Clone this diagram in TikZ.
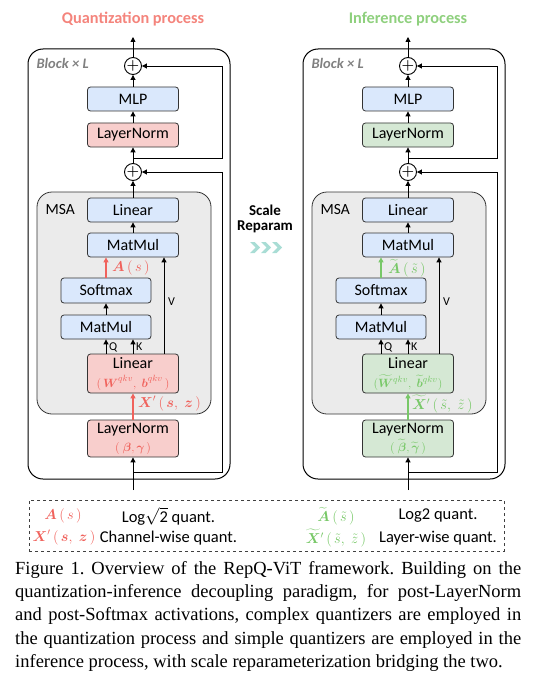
\documentclass[tikz,border=0pt]{standalone}
\usepackage{amsmath}
\usepackage{amssymb}
\usepackage{fontspec}
\setmainfont{Liberation Serif}
\newfontfamily\calib{Carlito}
\usepackage{xcolor}
\usetikzlibrary{arrows.meta}

\definecolor{qred}{HTML}{F0625C}
\definecolor{qredtitle}{HTML}{F4847C}
\definecolor{igreen}{HTML}{78C868}
\definecolor{igreentitle}{HTML}{8FD07E}
\definecolor{boxblue}{HTML}{DAE8FC}
\definecolor{boxred}{HTML}{F8CECC}
\definecolor{boxgreen}{HTML}{D5E8D4}
\definecolor{msagray}{HTML}{EBEBEB}
\definecolor{chevron}{HTML}{A9DDD5}

\begin{document}
\begin{tikzpicture}[x=1pt, y=-1pt,
	op/.style={rectangle, rounded corners=3pt, draw=black!80, line width=0.8pt, minimum width=91pt, minimum height=24pt, inner sep=0pt, font=\calib\fontsize{16}{18}\selectfont},
	blockbox/.style={rectangle, rounded corners=15pt, draw=black, line width=1pt},
	msabox/.style={rectangle, rounded corners=15pt, draw=black!80, line width=0.8pt, fill=msagray},
	addop/.style={circle, draw=black, line width=0.9pt, fill=white, minimum size=17pt, inner sep=0pt, font=\fontsize{15}{15}\selectfont},
	arr/.style={-{Triangle[length=5pt, width=5pt]}, line width=0.9pt, draw=black},
	qarr/.style={arr, draw=qred, line width=1.2pt},
	iarr/.style={arr, draw=igreen, line width=1.2pt},
	mlab/.style={inner sep=0pt, font=\fontsize{14}{16}\selectfont},
	qkvlab/.style={inner sep=0pt, anchor=west, font=\calib\fontsize{12}{14}\selectfont},
	title/.style={font=\calib\bfseries\fontsize{16.3}{18}\selectfont},
	legtext/.style={font=\calib\fontsize{16.5}{18}\selectfont}
]
	\useasboundingbox (0,0) rectangle (556,690);

	% quantization process (left)
	\node[title, text=qredtitle] at (133,19)(qtitle){Quantization process};
	\node[blockbox, minimum width=202pt, minimum height=430pt] at (129,264)(qblock){};
	\node[anchor=west, text=black!50, font=\calib\bfseries\itshape\fontsize{14.5}{16}\selectfont] at (33,63)(qblocklab){Block × L};
	\node[msabox, minimum width=174pt, minimum height=222pt] at (124,303)(qmsa){};
	\node[anchor=west, font=\calib\fontsize{15.5}{17}\selectfont] at (42,210)(qmsalab){MSA};
	\node[addop] at (133,66)(qplusT){$\boldsymbol{+}$};
	\node[addop] at (133,172)(qplusB){$\boldsymbol{+}$};
	\node[op, fill=boxblue] at (133,99)(qmlp){MLP};
	\node[op, fill=boxred] at (133,135)(qln){LayerNorm};
	\node[op, fill=boxblue] at (133,210)(qlin){Linear};
	\node[op, fill=boxblue] at (133,245)(qmm){MatMul};
	\node[op, fill=boxblue, minimum width=90pt, minimum height=25pt] at (106,290.5)(qsoft){Softmax};
	\node[op, fill=boxblue, minimum width=90pt] at (106,327)(qmm2){MatMul};
	\node[op, fill=boxred, minimum height=39pt, align=center] at (133,373.5)(qqkv){Linear\\[1pt]{\fontsize{13}{15}\selectfont\color{qred}$(\,\boldsymbol{W}^{qkv},\;\boldsymbol{b}^{qkv}\,)$}};
	\node[op, fill=boxred, minimum height=37pt, align=center] at (133,438.5)(qlnin){LayerNorm\\[0pt]{\fontsize{13}{15}\selectfont\color{qred}$(\;\boldsymbol{\beta},\boldsymbol{\gamma}\,)$}};
	\coordinate (qout) at (133,37);
	\coordinate (qin) at (133,490);
	\coordinate (qsplit1) at (133,158);
	\coordinate (qres1) at (222,158);
	\coordinate (qsplit2) at (133,472);
	\coordinate (qres2) at (222,472);
	\draw[arr](qplusT.north) -- (qout);
	\draw[arr](qmlp.north) -- (qplusT.south);
	\draw[arr](qln.north) -- (qmlp.south);
	\draw[arr](qplusB.north) -- (qln.south);
	\draw[arr](qsplit1) -- (qres1) |- (qplusT.east);
	\draw[arr](qlin.north) -- (qplusB.south);
	\draw[arr](qmm.north) -- (qlin.south);
	\draw[qarr](qsoft.north) -- (qsoft.north |- qmm.south);
	\draw[arr](qmm2.north) -- (qsoft.south);
	\draw[arr](qmm2.south |- qqkv.north) -- (qmm2.south);
	\draw[arr](qqkv.north) -- (qqkv.north |- qmm2.south);
	\draw[arr]([xshift=31pt]qqkv.north) -- ([xshift=31pt]qmm.south);
	\draw[qarr](qlnin.north) -- (qqkv.south);
	\draw[arr](qin) -- (qlnin.south);
	\draw[arr](qsplit2) -- (qres2) |- (qplusB.east);
	\node[mlab, anchor=west, text=qred] at (112,268)(qalab){$\boldsymbol{A}\,(\,s\,)$};
	\node[mlab, anchor=west, text=qred] at (138,404)(qxlab){$\boldsymbol{X}'\,(\,\boldsymbol{s},\;\boldsymbol{z}\,)$};
	\node[qkvlab] at (109,347)(qqlab){Q};
	\node[qkvlab] at (136,347)(qklab){K};
	\node[qkvlab] at (168,302)(qvlab){V};

	% scale reparam
	\node[align=center, font=\calib\bfseries\fontsize{15}{15.5}\selectfont] at (265,219)(reparam){Scale\\Reparam};
	\foreach \cx in {250,261,272}
		\fill[chevron] (\cx,242) -- (\cx+4.5,242) -- (\cx+10,247.5) -- (\cx+4.5,253) -- (\cx,253) -- (\cx+5.5,247.5) -- cycle;

	% inference process (right)
	\node[title, text=igreentitle] at (408,19)(ititle){Inference process};
	\node[blockbox, minimum width=202pt, minimum height=430pt] at (404,264)(iblock){};
	\node[anchor=west, text=black!50, font=\calib\bfseries\itshape\fontsize{14.5}{16}\selectfont] at (308,63)(iblocklab){Block × L};
	\node[msabox, minimum width=174pt, minimum height=222pt] at (399,303)(imsa){};
	\node[anchor=west, font=\calib\fontsize{15.5}{17}\selectfont] at (317,210)(imsalab){MSA};
	\node[addop] at (408,66)(iplusT){$\boldsymbol{+}$};
	\node[addop] at (408,172)(iplusB){$\boldsymbol{+}$};
	\node[op, fill=boxblue] at (408,99)(imlp){MLP};
	\node[op, fill=boxgreen] at (408,135)(iln){LayerNorm};
	\node[op, fill=boxblue] at (408,210)(ilin){Linear};
	\node[op, fill=boxblue] at (408,245)(imm){MatMul};
	\node[op, fill=boxblue, minimum width=90pt, minimum height=25pt] at (381,290.5)(isoft){Softmax};
	\node[op, fill=boxblue, minimum width=90pt] at (381,327)(imm2){MatMul};
	\node[op, fill=boxgreen, minimum height=39pt, align=center] at (408,373.5)(iqkv){Linear\\[1pt]{\fontsize{13}{15}\selectfont\color{igreen}$(\widetilde{\boldsymbol{W}}{}^{qkv},\;\widetilde{\boldsymbol{b}}{}^{qkv})$}};
	\node[op, fill=boxgreen, minimum height=37pt, align=center] at (408,438.5)(ilnin){LayerNorm\\[0pt]{\fontsize{13}{15}\selectfont\color{igreen}$(\;\widetilde{\boldsymbol{\beta}},\widetilde{\boldsymbol{\gamma}}\,)$}};
	\coordinate (iout) at (408,37);
	\coordinate (iin) at (408,490);
	\coordinate (isplit1) at (408,158);
	\coordinate (ires1) at (497,158);
	\coordinate (isplit2) at (408,472);
	\coordinate (ires2) at (497,472);
	\draw[arr](iplusT.north) -- (iout);
	\draw[arr](imlp.north) -- (iplusT.south);
	\draw[arr](iln.north) -- (imlp.south);
	\draw[arr](iplusB.north) -- (iln.south);
	\draw[arr](isplit1) -- (ires1) |- (iplusT.east);
	\draw[arr](ilin.north) -- (iplusB.south);
	\draw[arr](imm.north) -- (ilin.south);
	\draw[iarr](isoft.north) -- (isoft.north |- imm.south);
	\draw[arr](imm2.north) -- (isoft.south);
	\draw[arr](imm2.south |- iqkv.north) -- (imm2.south);
	\draw[arr](iqkv.north) -- (iqkv.north |- imm2.south);
	\draw[arr]([xshift=31pt]iqkv.north) -- ([xshift=31pt]imm.south);
	\draw[iarr](ilnin.north) -- (iqkv.south);
	\draw[arr](iin) -- (ilnin.south);
	\draw[arr](isplit2) -- (ires2) |- (iplusB.east);
	\node[mlab, anchor=west, text=igreen] at (388,268)(ialab){$\widetilde{\boldsymbol{A}}\,(\,\tilde{s}\,)$};
	\node[mlab, anchor=west, text=igreen] at (412,404)(ixlab){$\widetilde{\boldsymbol{X}}{}'\,(\,\tilde{s},\;\tilde{z}\,)$};
	\node[qkvlab] at (384,347)(iqlab){Q};
	\node[qkvlab] at (411,347)(iklab){K};
	\node[qkvlab] at (443,302)(ivlab){V};

	% legend
	\node[rectangle, draw=black!75, dashed, line width=1pt, minimum width=475pt, minimum height=51pt] at (266.5,525.5)(legend){};
	\node[mlab, text=qred] at (63,516)(legA){$\boldsymbol{A}\,(\,s\,)$};
	\node[legtext] at (168.5,516)(legAq){Log$\sqrt{\text{2}}$ quant.};
	\node[mlab, text=qred] at (64,538)(legX){$\boldsymbol{X}'\,(\,\boldsymbol{s},\;\boldsymbol{z}\,)$};
	\node[legtext] at (168.5,538)(legXq){Channel-wise quant.};
	\node[mlab, text=igreen] at (336,516)(legAt){$\widetilde{\boldsymbol{A}}\,(\,\tilde{s}\,)$};
	\node[legtext] at (438,516)(legAtq){Log2 quant.};
	\node[mlab, text=igreen] at (336,538)(legXt){$\widetilde{\boldsymbol{X}}{}'\,(\,\tilde{s},\;\tilde{z}\,)$};
	\node[legtext] at (438,538)(legXtq){Layer-wise quant.};

	% caption
	\node[anchor=north west, inner sep=0pt, text width=506pt, align=justify, font=\fontsize{18.5}{23.3}\selectfont] at (15,561)(caption){\frenchspacing\hyphenpenalty=10000\exhyphenpenalty=10000\parfillskip=0pt
	Figure 1. Overview of the RepQ-ViT framework. Building on the\linebreak
	quantization-inference decoupling paradigm, for post-LayerNorm\linebreak
	and post-Softmax activations, complex quantizers are employed in\linebreak
	the quantization process and simple quantizers are employed in the\linebreak
	inference process, with scale reparameterization bridging the two.};
\end{tikzpicture}
\end{document}
